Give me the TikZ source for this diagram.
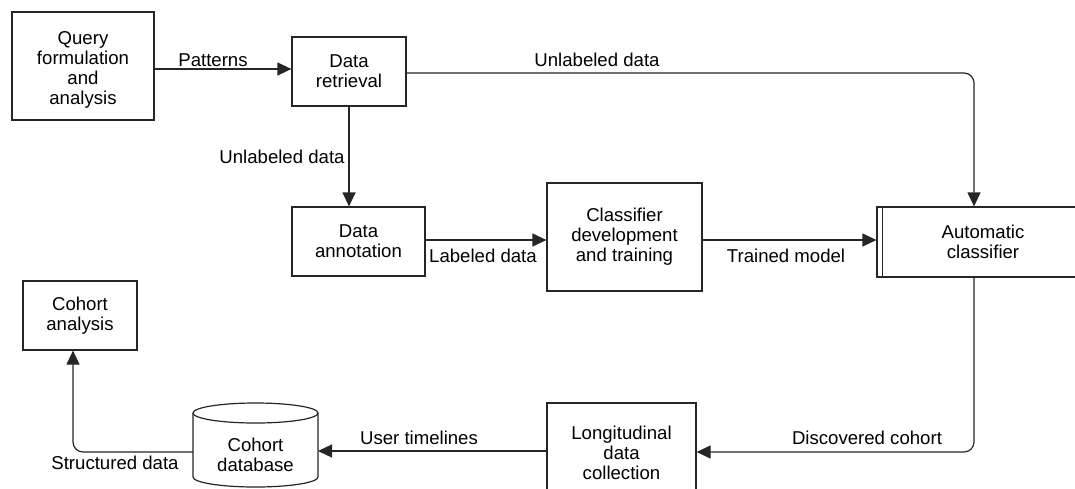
\documentclass[tikz,border=0pt]{standalone}
\usepackage{fontspec}
\setmainfont{Liberation Sans}
\usetikzlibrary{arrows.meta,calc}
\begin{document}
\begin{tikzpicture}[x=1pt,y=-1pt,
  box/.style={draw=black!85, line width=1.2pt, fill=white, align=center, inner sep=0pt,
    font=\fontsize{18.6}{20}\selectfont},
  lbl/.style={font=\fontsize{18.6}{20}\selectfont, inner sep=0pt},
  conn/.style={draw=black!85, line width=1.2pt, -{Triangle[length=14pt,width=13pt]}},
  wire/.style={draw=black!85, line width=1.2pt},
]
\useasboundingbox[fill=white] (0,0) rectangle (1075,488);

% nodes
\node[box, minimum width=142pt, minimum height=108pt] (q) at (83,66) {};
\node[lbl, align=center] (qt) at (83,69.5) {Query\\formulation\\and\\analysis};
\node[box, minimum width=114pt, minimum height=69pt] (dr) at (349,71.5) {Data\\retrieval};
\node[box, minimum width=133pt, minimum height=69pt] (da) at (358.5,241.5) {Data\\annotation};
\node[box, minimum width=155pt, minimum height=108pt] (cl) at (624.5,237) {Classifier\\development\\and training};
\node[box, minimum width=212pt, minimum height=70pt] (ac) at (983,242) {Automatic\\classifier};
\draw[wire] ($(ac.north west)+(6,0)$) -- ($(ac.south west)+(6,0)$);
\node[box, minimum width=114pt, minimum height=69pt] (ca) at (80,315.5) {Cohort\\analysis};
\node[box, minimum width=149pt, minimum height=100pt] (ld) at (621.5,453) {Longitudinal\\data\\collection};

% cylinder
\draw[wire, fill=white] (193,413) -- (193,477) arc[start angle=180, end angle=0, x radius=62.5, y radius=10] -- (318,413);
\draw[wire, fill=white] (255.5,413) ellipse[x radius=62.5, y radius=10];
\node[align=center, inner sep=0pt, minimum width=125pt,
  font=\fontsize{18.6}{20}\selectfont] (db) at (255.5,455) {Cohort\\database};

% connectors
\draw[conn] (q.east |- 0,69) -- (dr.west |- 0,69);
\node[lbl] (l1) at (213,60) {Patterns};

\draw[conn, rounded corners=10pt] (dr.east |- 0,73) -| (ac.north -| 974,0);
\node[lbl] (l2) at (597,60) {Unlabeled data};

\draw[conn] (dr.south) -- (dr.south |- da.north);
\node[lbl] (l3) at (282,157) {Unlabeled data};

\draw[conn] (da.east |- 0,240) -- (cl.west |- 0,240);
\node[lbl] (l4) at (483,256) {Labeled data};

\draw[conn] (cl.east |- 0,240) -- (ac.west |- 0,240);
\node[lbl] (l5) at (786,256) {Trained model};

\draw[conn, rounded corners=10pt] (ac.south -| 974,0) |- (ld.east |- 0,452);
\node[lbl] (l6) at (867,438) {Discovered cohort};

\draw[conn] (ld.west |- 0,451) -- (318,451);
\node[lbl] (l7) at (419,438) {User timelines};

\draw[conn, rounded corners=10pt] (193,452) -| (ca.south -| 73,0);
\node[lbl] (l8) at (115,463) {Structured data};
\end{tikzpicture}
\end{document}
